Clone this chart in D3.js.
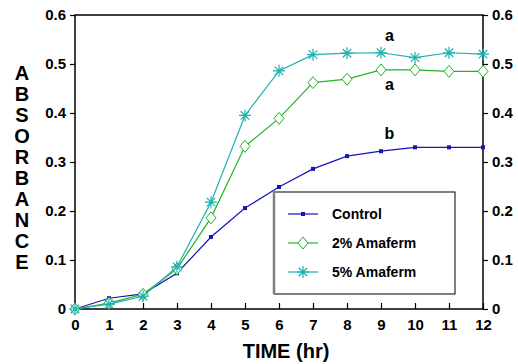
<!DOCTYPE html>
<html>
<head>
<meta charset="utf-8">
<script src="https://cdn.jsdelivr.net/npm/d3@7"></script>
<style>
  body { margin: 0; background: #fff; }
  text { font-family: "Liberation Sans", Arial, sans-serif; font-weight: bold; }
</style>
</head>
<body>
<div id="chart"></div>
<script>
const hours = [0, 1, 2, 3, 4, 5, 6, 7, 8, 9, 10, 11, 12];
const controlVals = [0, 0.022, 0.031, 0.073, 0.147, 0.206, 0.249, 0.286, 0.312, 0.322, 0.330, 0.330, 0.330];
const amaferm2Vals = [0, 0.012, 0.030, 0.082, 0.186, 0.332, 0.389, 0.462, 0.469, 0.488, 0.488, 0.485, 0.485];
const amaferm5Vals = [0, 0.010, 0.026, 0.086, 0.218, 0.395, 0.486, 0.519, 0.522, 0.523, 0.513, 0.523, 0.520];
const yTicks = [0, 0.1, 0.2, 0.3, 0.4, 0.5, 0.6];
const seriesNames = ["Control", "2% Amaferm", "5% Amaferm"];
const groupLabels = [
    { hour: 9.25, value: 0.547, text: "a" },
    { hour: 9.25, value: 0.447, text: "a" },
    { hour: 9.25, value: 0.347, text: "b" }
];

const series = [
    { name: seriesNames[0], values: controlVals, color: "#1515b5", marker: "square" },
    { name: seriesNames[1], values: amaferm2Vals, color: "#22b422", marker: "diamond" },
    { name: seriesNames[2], values: amaferm5Vals, color: "#1fb0b0", marker: "star" }
];

const width = 518, height = 364;
const margin = { top: 15, right: 35, bottom: 55, left: 75 };
const plotW = width - margin.left - margin.right;
const plotH = height - margin.top - margin.bottom;

const svg = d3.select("#chart").append("svg")
    .attr("width", width)
    .attr("height", height);

const g = svg.append("g")
    .attr("transform", `translate(${margin.left},${margin.top})`);

const x = d3.scaleLinear().domain([0, 12]).range([0, plotW]);
const y = d3.scaleLinear().domain([0, 0.6]).range([plotH, 0]);

const fmt = d => d === 0 ? "0" : d3.format(".1f")(d);

// frame
g.append("rect")
    .attr("width", plotW).attr("height", plotH)
    .attr("fill", "none").attr("stroke", "#000").attr("stroke-width", 1.5);

const leftAxis = g.append("g")
    .call(d3.axisLeft(y).tickValues(yTicks).tickFormat(fmt).tickSize(5).tickPadding(4));
const rightAxis = g.append("g")
    .attr("transform", `translate(${plotW},0)`)
    .call(d3.axisRight(y).tickValues(yTicks).tickFormat(fmt).tickSize(5).tickPadding(4));
const bottomAxis = g.append("g")
    .attr("transform", `translate(0,${plotH})`)
    .call(d3.axisBottom(x).tickValues(hours).tickFormat(d3.format("d")).tickSize(-6).tickPadding(10));

[leftAxis, rightAxis, bottomAxis].forEach(ax => {
    ax.select(".domain").remove();
    ax.selectAll(".tick line").attr("stroke", "#000").attr("stroke-width", 1.2);
    ax.selectAll("text").style("font-size", "15px").attr("fill", "#000");
});

// lines and markers
const line = d3.line()
    .x((d, i) => x(hours[i]))
    .y(d => y(d));

function drawMarker(sel, type, color) {
    if (type === "square") {
        sel.append("rect")
            .attr("x", -2).attr("y", -2).attr("width", 4).attr("height", 4)
            .attr("fill", color);
    } else if (type === "diamond") {
        sel.append("path")
            .attr("d", "M0,-6L5,0L0,6L-5,0Z")
            .attr("fill", "#fff").attr("stroke", color).attr("stroke-width", 1);
    } else {
        const r = 6;
        const p = [];
        for (let k = 0; k < 4; k++) {
            const a = k * Math.PI / 4;
            p.push(`M${-r * Math.cos(a)},${-r * Math.sin(a)}L${r * Math.cos(a)},${r * Math.sin(a)}`);
        }
        sel.append("path")
            .attr("d", p.join(""))
            .attr("stroke", color).attr("stroke-width", 1.2).attr("fill", "none");
    }
}

series.forEach(s => {
    g.append("path")
        .datum(s.values)
        .attr("d", line)
        .attr("fill", "none")
        .attr("stroke", s.color)
        .attr("stroke-width", 1.2);

    g.selectAll(null)
        .data(s.values)
        .enter()
        .append("g")
        .attr("transform", (d, i) => `translate(${x(hours[i])},${y(d)})`)
        .each(function () { drawMarker(d3.select(this), s.marker, s.color); });
});

// significance letters
g.selectAll(".grp")
    .data(groupLabels)
    .enter()
    .append("text")
    .attr("x", d => x(d.hour))
    .attr("y", d => y(d.value))
    .attr("text-anchor", "middle")
    .style("font-size", "16px")
    .text(d => d.text);

// legend
const legend = g.append("g").attr("transform", `translate(${199},${177})`);
legend.append("rect")
    .attr("width", 181).attr("height", 102)
    .attr("fill", "#fff").attr("stroke", "#000").attr("stroke-width", 1);
legend.append("line")
    .attr("x1", 0).attr("x2", 0).attr("y1", 0).attr("y2", 102)
    .attr("stroke", "#808080").attr("stroke-width", 2.5);

series.forEach((s, i) => {
    const row = legend.append("g").attr("transform", `translate(0,${22 + i * 29})`);
    row.append("line")
        .attr("x1", 14).attr("x2", 44)
        .attr("stroke", s.color).attr("stroke-width", 1.2);
    drawMarker(row.append("g").attr("transform", "translate(29,0)"), s.marker, s.color);
    row.append("text")
        .attr("x", 58).attr("y", 5)
        .style("font-size", "14px")
        .text(s.name);
});

// axis titles
svg.append("text")
    .attr("x", 286).attr("y", 358)
    .attr("text-anchor", "middle")
    .style("font-size", "20px")
    .text("TIME (hr)");

const yTitle = "ABSORBANCE".split("");
svg.append("g").selectAll("text")
    .data(yTitle)
    .enter()
    .append("text")
    .attr("x", 22)
    .attr("y", (d, i) => 80 + i * 21)
    .attr("text-anchor", "middle")
    .style("font-size", "20px")
    .text(d => d);
</script>
</body>
</html>
